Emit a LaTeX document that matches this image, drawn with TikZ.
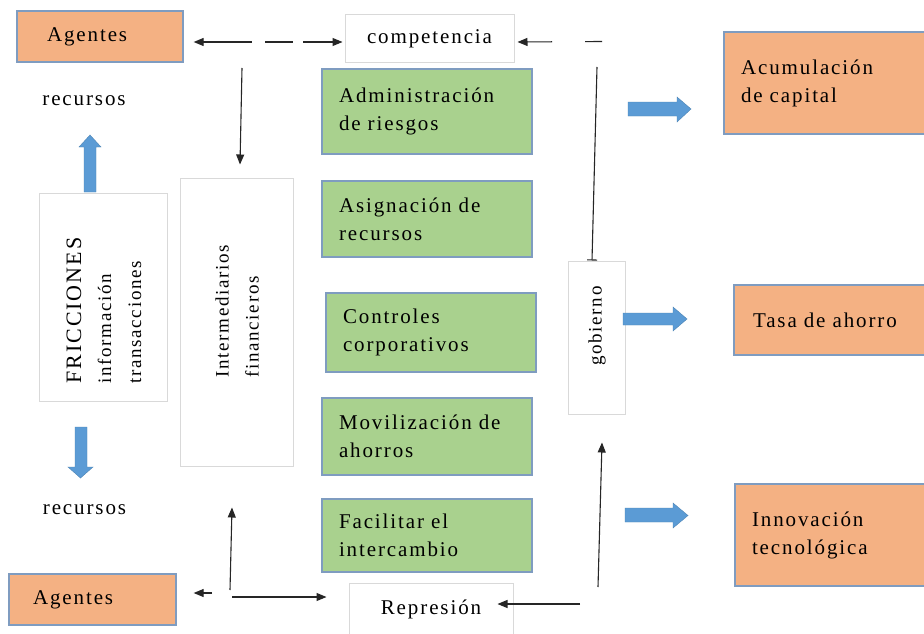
\documentclass[tikz,border=0pt]{standalone}
\usepackage{fontspec}
\setmainfont{Liberation Serif}[LetterSpace=9]
\usetikzlibrary{arrows.meta}
\definecolor{orfill}{HTML}{F4B183}
\definecolor{grfill}{HTML}{A9D18E}
\definecolor{bborder}{HTML}{7F9CC0}
\definecolor{wborder}{HTML}{D9D9D9}
\definecolor{barrow}{HTML}{5B9BD5}
\begin{document}
\begin{tikzpicture}[x=1pt,y=-1pt,
  font=\fontsize{21}{28}\selectfont,
  obox/.style={draw=bborder, line width=1.3pt, fill=orfill, align=left, inner ysep=0pt},
  gbox/.style={draw=bborder, line width=1.3pt, fill=grfill, align=left, inner xsep=17pt, inner ysep=0pt, text width=176pt},
  wbox/.style={draw=wborder, line width=1pt, fill=white, inner sep=0pt},
  rtext/.style={rotate=90, align=left, inner sep=0pt, font=\fontsize{19}{30}\selectfont},
  tip/.tip={Triangle[length=10pt,width=8pt]},
  conn/.style={line width=1.1pt, draw=black!85, -tip},
  blk/.style={fill=barrow, draw=barrow!85!black, line width=0.4pt}
]
\path[use as bounding box] (0,0) rectangle (924,634);
\clip (0,0) rectangle (924,634);
\fill[white] (0,0) rectangle (924,634);

% left column
\node[obox, inner xsep=30pt, text width=106pt, minimum height=51pt] (ag1) at (100,36.5) {Agentes};
\node[inner sep=0pt] (rec1) at (84,101) {recursos};
\node[wbox, minimum width=128pt, minimum height=208pt] (fric) at (103,297) {};
\node[rtext, anchor=west] (frict) at (104,384) {{\fontsize{22}{30}\selectfont FRICCIONES}\\información\\transacciones};
\node[inner sep=0pt] (rec2) at (84.5,510) {recursos};
\node[obox, inner xsep=24pt, text width=119pt, minimum height=51pt] (ag2) at (92.5,599.5) {Agentes};

% intermediarios
\node[wbox, minimum width=113pt, minimum height=288pt] (inter) at (236.5,322) {};
\node[rtext, anchor=west] (intt) at (237,378) {Intermediarios\\financieros};

% centre column
\node[wbox, minimum width=169pt, minimum height=48pt] (comp) at (429.5,39) {competencia};
\node[gbox, minimum height=85pt] (adm) at (427,111.5) {Administración\\de riesgos};
\node[gbox, minimum height=76pt] (asi) at (427,219) {Asignación de\\recursos};
\node[gbox, minimum height=79pt] (con) at (431,332.5) {Controles\\corporativos};
\node[gbox, minimum height=77pt] (mov) at (427,436.5) {Movilización de\\ahorros};
\node[gbox, minimum height=73pt] (fac) at (427,535.5) {Facilitar el\\intercambio};
\node[wbox, minimum width=164pt, minimum height=53pt] (rep) at (431,609.5) {Represión};

% gobierno
\node[wbox, minimum width=57pt, minimum height=153pt] (gob) at (596.5,337.5) {};
\node[rtext, anchor=west] (gobt) at (597,366) {gobierno};

% right column
\node[obox, inner xsep=17pt, text width=172pt, minimum height=102pt] (acu) at (827,83) {Acumulación\\de capital};
\node[obox, inner xsep=19pt, text width=168pt, minimum height=70pt] (tas) at (837,320) {Tasa de ahorro};
\node[obox, inner xsep=17pt, text width=172pt, minimum height=102pt] (inn) at (838,535) {Innovación\\tecnológica};

% block arrows
\fill[blk] (628,102)--(677,102)--(677,97)--(691,109)--(677,122)--(677,116)--(628,116)--cycle;
\fill[blk] (623,313)--(673,313)--(673,307)--(687,319)--(673,331)--(673,325)--(623,325)--cycle;
\fill[blk] (625,508)--(673,508)--(673,503)--(688,515.5)--(673,528)--(673,522)--(625,522)--cycle;
\fill[blk] (84,192)--(84,147)--(79,147)--(90,135)--(101,147)--(96,147)--(96,192)--cycle;
\fill[blk] (75,427)--(75,467)--(68,467)--(80.5,478)--(93,467)--(87,467)--(87,427)--cycle;

% free ends
\coordinate (tl) at (242,68);
\coordinate (gtop) at (597,67);
\coordinate (gcor) at (602,41.5);
\coordinate (rcor) at (580,604);
\coordinate (gbot) at (598,587);
\coordinate (blv) at (230,590);
\coordinate (blh) at (232,597);
\coordinate (bll) at (212,593);

% connectors
\draw[conn, tip-tip, dash pattern=on 49pt off 13pt on 28pt off 10pt on 60pt]
  ([shift={(10,5.5)}]ag1.east) -- ([shift={(-2,3)}]comp.west);
\draw[conn] (tl) -- ([shift={(3.5,-13)}]inter.north);
\draw[conn, dash pattern=on 17pt off 33pt on 60pt] (gcor) -- ([shift={(3,3)}]comp.east);
\draw[line width=1.1pt, draw=black!85, {Bar[width=10pt,line width=1.1pt]}-] ([xshift=-4.5pt]gob.north) -- (gtop);
\draw[conn] (gbot) -- ([shift={(5.5,28)}]gob.south);
\draw[conn] (rcor) -- ([shift={(-16,-5.5)}]rep.east);
\draw[conn] (bll) -- ([shift={(17,-6.5)}]ag2.east);
\draw[conn] (blv) -- ([shift={(-4.5,41)}]inter.south);
\draw[conn] (blh) -- ([shift={(-22,-12.5)}]rep.west);
\end{tikzpicture}
\end{document}
